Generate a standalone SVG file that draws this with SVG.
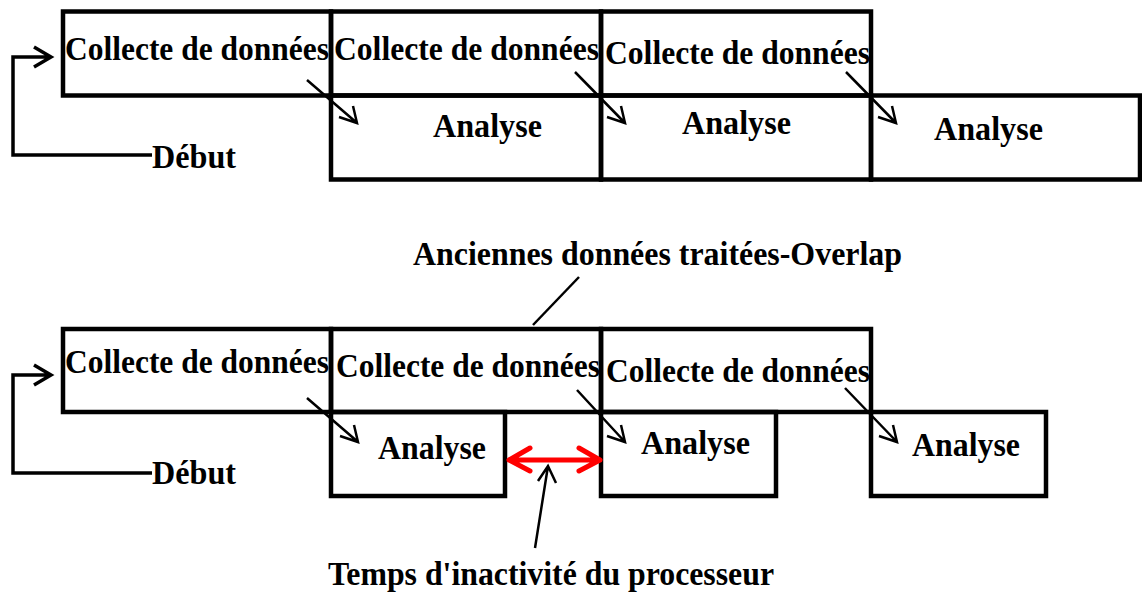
<svg xmlns="http://www.w3.org/2000/svg" width="1142" height="597" viewBox="0 0 1142 597">
  <style>
    .box { fill: none; stroke: #000; stroke-width: 4.5; }
    .lbl { font-family: "Liberation Serif", "Times New Roman", serif; font-weight: bold; font-size: 34.5px; fill: #000; }
    .wire { fill: none; stroke: #000; stroke-width: 2.5; }
    .loop { fill: none; stroke: #000; stroke-width: 3.5; }
    .idle { fill: none; stroke: #ff0000; stroke-width: 5; stroke-linecap: round; stroke-linejoin: round; }
  </style>
  <rect width="1142" height="597" fill="#fff"/>

  <!-- Sequential pipeline (top) -->
  <g id="seq-collecte-1"><rect class="box" x="63" y="11.5" width="268" height="84"/><text class="lbl" x="65" y="60" textLength="264" lengthAdjust="spacingAndGlyphs">Collecte de données</text></g>
  <g id="seq-collecte-2"><rect class="box" x="331" y="11.5" width="270" height="84"/><text class="lbl" x="334" y="60" textLength="265" lengthAdjust="spacingAndGlyphs">Collecte de données</text></g>
  <g id="seq-collecte-3"><rect class="box" x="601" y="11.5" width="270" height="84"/><text class="lbl" x="605" y="64" textLength="265" lengthAdjust="spacingAndGlyphs">Collecte de données</text></g>
  <g id="seq-analyse-1"><rect class="box" x="331" y="95.5" width="270" height="84"/><text class="lbl" x="433" y="137" textLength="109" lengthAdjust="spacingAndGlyphs">Analyse</text></g>
  <g id="seq-analyse-2"><rect class="box" x="601" y="95.5" width="270" height="84"/><text class="lbl" x="682" y="134" textLength="109" lengthAdjust="spacingAndGlyphs">Analyse</text></g>
  <g id="seq-analyse-3"><rect class="box" x="871" y="95.5" width="269" height="84"/><text class="lbl" x="934" y="140" textLength="109" lengthAdjust="spacingAndGlyphs">Analyse</text></g>
  <g id="seq-debut"><text class="lbl" x="152" y="168" textLength="84" lengthAdjust="spacingAndGlyphs">Début</text></g>

  <!-- Overlapped pipeline (bottom) -->
  <g id="ovl-collecte-1"><rect class="box" x="63" y="329" width="268" height="83"/><text class="lbl" x="65" y="373" textLength="264" lengthAdjust="spacingAndGlyphs">Collecte de données</text></g>
  <g id="ovl-collecte-2"><rect class="box" x="331" y="329" width="270" height="83"/><text class="lbl" x="336" y="377" textLength="264" lengthAdjust="spacingAndGlyphs">Collecte de données</text></g>
  <g id="ovl-collecte-3"><rect class="box" x="601" y="329" width="270" height="83"/><text class="lbl" x="606" y="382" textLength="264" lengthAdjust="spacingAndGlyphs">Collecte de données</text></g>
  <g id="ovl-analyse-1"><rect class="box" x="331" y="412" width="174" height="84"/><text class="lbl" x="378" y="459" textLength="108" lengthAdjust="spacingAndGlyphs">Analyse</text></g>
  <g id="ovl-analyse-2"><rect class="box" x="601" y="412" width="175" height="84"/><text class="lbl" x="641" y="454" textLength="109" lengthAdjust="spacingAndGlyphs">Analyse</text></g>
  <g id="ovl-analyse-3"><rect class="box" x="871" y="412" width="175" height="84"/><text class="lbl" x="912" y="456" textLength="108" lengthAdjust="spacingAndGlyphs">Analyse</text></g>
  <g id="ovl-debut"><text class="lbl" x="152" y="484" textLength="84" lengthAdjust="spacingAndGlyphs">Début</text></g>
  <g id="note-overlap"><text class="lbl" x="413" y="265" textLength="489" lengthAdjust="spacingAndGlyphs">Anciennes données traitées-Overlap</text></g>
  <g id="note-idle"><text class="lbl" x="328" y="585" textLength="446" lengthAdjust="spacingAndGlyphs">Temps d'inactivité du processeur</text></g>

  <g id="connectors">
    <!-- start loops -->
    <path class="loop" d="M152 155 H13 V57 H51 M34 47 L51 57 L34 67"/>
    <path class="loop" d="M152 473 H13 V375 H51 M34 365 L51 375 L34 385"/>
    <!-- hand-off arrows, top -->
    <path class="wire" d="M307 80 L357 123 M339 117 L357 123 L353 106"/>
    <path class="wire" d="M575 72 L625 123 M607 117 L625 123 L621 106"/>
    <path class="wire" d="M846 72 L896 123 M878 117 L896 123 L892 106"/>
    <!-- hand-off arrows, bottom -->
    <path class="wire" d="M307 398 L358 442 M340 436 L358 442 L354 425"/>
    <path class="wire" d="M577 390 L625 442 M607 436 L625 442 L621 425"/>
    <path class="wire" d="M845 388 L897 442 M879 436 L897 442 L893 425"/>
    <!-- overlap pointer -->
    <path class="wire" d="M533 325 L579 277"/>
    <!-- idle gap -->
    <path class="idle" d="M509 460 H600 M530 448 L509 460 L530 471 M579 448 L600 460 L579 471"/>
    <path class="wire" d="M535 548 L548 466 M538 481 L548 466 L556 483"/>
  </g>
</svg>
